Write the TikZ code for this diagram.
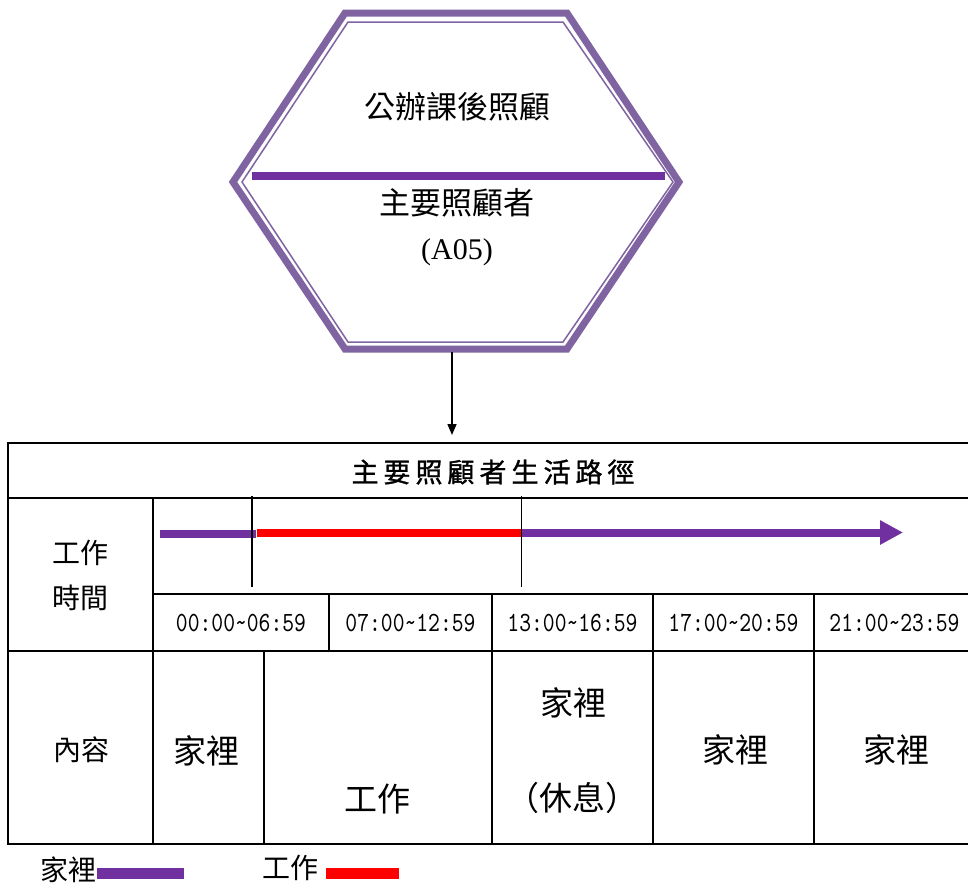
\documentclass[tikz,border=0pt]{standalone}
\usepackage{fontspec}
\newfontfamily\cjk{Noto Sans CJK TC}
\newfontfamily\cjkb[FakeBold=1.2]{Noto Sans CJK TC}
\newfontfamily\serifr{Liberation Serif}
\newfontfamily\tfont[FakeStretch=0.81]{lmmono10-regular.otf}
\usetikzlibrary{arrows.meta}
\definecolor{hexc}{RGB}{128,100,162}
\definecolor{ppl}{RGB}{112,48,160}
\definecolor{rd}{RGB}{255,0,0}
\begin{document}
\begin{tikzpicture}[x=1pt,y=-1pt,
  tline/.style={line width=2pt, black},
  txt/.style={inner sep=0pt, anchor=center, font=\cjk\fontsize{#1}{#1}\selectfont},
  timetxt/.style={inner sep=0pt, anchor=center, font=\tfont\fontsize{27.8}{28}\selectfont},
  marker/.style={line width=1.3pt, black},
  pathline/.style={line width=8pt, line cap=butt}]
\useasboundingbox (0,0) rectangle (968,886);
\fill[white] (0,0) rectangle (968,886);

% hexagon
\draw[hexc, line width=7pt, line join=miter]
  (345,13) -- (567,13) -- (679,182) -- (567,349) -- (345,349) -- (233,182) -- cycle;
\draw[hexc, line width=1.5pt]
  (348,22) -- (563,22) -- (673,182) -- (563,342) -- (348,342) -- (242,182) -- cycle;
\draw[ppl, line width=7.5pt] (252,176) -- (665,176);
\node[txt=31] (hexa) at (457,107) {公辦課後照顧};
\node[txt=31] (hexb) at (457,203) {主要照顧者};
\node[inner sep=0pt, font=\serifr\fontsize{30}{30}\selectfont] (hexc) at (457,252) {(A05)};

% connector
\coordinate (hexbot) at (452,352);
\coordinate (tabtop) at (452,435);
\draw[line width=1.5pt, -{Triangle[length=11pt,width=9pt]}] (hexbot) -- (tabtop);

% table lines
\draw[tline] (8,443) -- (968,443);
\draw[tline] (8,498) -- (968,498);
\draw[tline] (153,594) -- (968,594);
\draw[tline] (8,651) -- (968,651);
\draw[tline] (8,844) -- (968,844);
\draw[tline] (8,442) -- (8,845);
\draw[tline] (153,498) -- (153,844);
\foreach \x in {329,492,653,814} \draw[tline] (\x,594) -- (\x,651);
\foreach \x in {264,492,653,814} \draw[tline] (\x,651) -- (\x,844);

% title
\node[inner sep=0pt, font=\cjkb\fontsize{27}{27}\selectfont] (title) at (493,472) {主\kern5pt 要\kern5pt 照\kern5pt 顧\kern5pt 者\kern5pt 生\kern5pt 活\kern5pt 路\kern5pt 徑};

% left headers
\node[inner sep=0pt, align=center, font=\cjk\fontsize{28}{45}\selectfont] (worktime) at (80,575) {工作\\時間};
\node[txt=28] (content) at (81,750) {內容};

% timeline
\coordinate (t0) at (160,534);
\coordinate (t1) at (256,534);
\coordinate (r0) at (257,532.5);
\coordinate (r1) at (521,532.5);
\coordinate (p0) at (521,532.5);
\coordinate (p1) at (903,532.5);
\draw[ppl, pathline] (t0) -- (t1);
\draw[rd, pathline] (r0) -- (r1);
\draw[ppl, pathline, -{Triangle[length=23pt,width=23pt]}] (p0) -- (p1);
\coordinate (m1a) at (252,496);
\coordinate (m1b) at (252,587);
\coordinate (m2a) at (521.5,496);
\coordinate (m2b) at (521.5,587);
\draw[marker] (m1a) -- (m1b);
\draw[marker] (m2a) -- (m2b);

% time labels
\node[timetxt] (h1) at (241,623) {00:00\char`\~06:59};
\node[timetxt] (h2) at (410.5,623) {07:00\char`\~12:59};
\node[timetxt] (h3) at (572.5,623) {13:00\char`\~16:59};
\node[timetxt] (h4) at (733.5,623) {17:00\char`\~20:59};
\node[timetxt] (h5) at (894.5,623) {21:00\char`\~23:59};

% content
\node[txt=33] (c1) at (206,751) {家裡};
\node[txt=33] (c2) at (377,799) {工作};
\node[txt=33] (c3a) at (573,703) {家裡};
\node[txt=33] (c3b) at (572,798) {（休息）};
\node[txt=33] (c4) at (735,750) {家裡};
\node[txt=33] (c5) at (896.5,750) {家裡};

% legend
\node[txt=28] (lg1) at (68,870) {家裡};
\fill[ppl] (97,868) rectangle (184,879);
\node[txt=28] (lg2) at (290,868) {工作};
\fill[rd] (326,868) rectangle (399,879);
\end{tikzpicture}
\end{document}
